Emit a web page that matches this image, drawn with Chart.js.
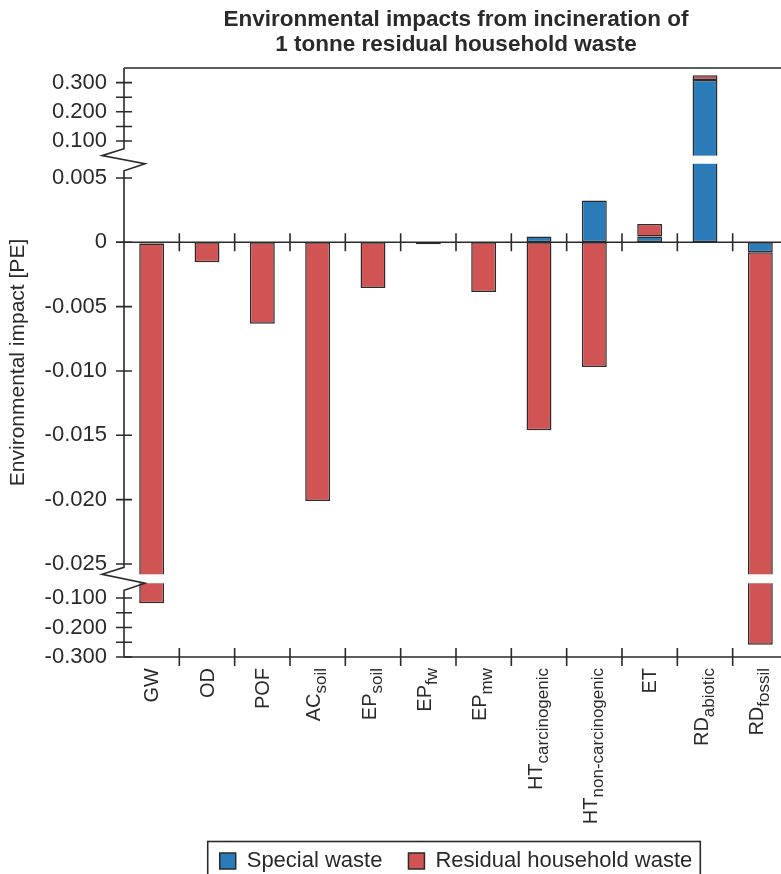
<!DOCTYPE html>
<html>
<head>
<meta charset="utf-8">
<script src="https://cdn.jsdelivr.net/npm/chart.js@4.4.1/dist/chart.umd.min.js"></script>
<style>
  html, body { margin: 0; padding: 0; background: #fff; overflow: hidden; }
  #wrap { width: 790px; height: 882px; }
</style>
</head>
<body>
<div id="wrap"><canvas id="chart" width="790" height="882"></canvas></div>
<script>
// impact categories (main text + subscript)
const catMain = ['GW', 'OD', 'POF', 'AC', 'EP', 'EP', 'EP', 'HT', 'HT', 'ET', 'RD', 'RD'];
const catSub = ['', '', '', 'soil', 'soil', 'fw', 'mw', 'carcinogenic', 'non-carcinogenic', '', 'abiotic', 'fossil'];

// PE per tonne
const specialWaste = [-0.0001, 0, 0, 0, 0, 0, 0, 0.00044, 0.00324, 0.00044, 0.309, -0.00078];
const residualWaste = [-0.118, -0.00156, -0.00633, -0.0201, -0.00355, -0.00016, -0.00386, -0.0146, -0.0097, 0.00098, 0.016, -0.258];

const yTickValues = [-0.3, -0.2, -0.1, -0.025, -0.02, -0.015, -0.01, -0.005, 0, 0.005, 0.1, 0.2, 0.3];
const yMinorTicks = [-0.25, -0.15, 0.15, 0.25];

// broken y axis: value range of each piece and where it sits (0 = bottom, 1 = top)
const segments = [
  { min: -0.30, max: -0.05, from: 0, to: 0.1252 },
  { min: -0.0258, max: 0.0061, from: 0.1404, to: 0.8374 },
  { min: 0.05, max: 0.35, from: 0.8512, to: 1 }
];

function toDecimal(v) {
  for (let i = 0; i < segments.length; i++) {
    const g = segments[i];
    if (i > 0 && v < g.min) {
      const p = segments[i - 1];
      return p.to + (v - p.max) / (g.min - p.max) * (g.from - p.to);
    }
    if (v <= g.max || i === segments.length - 1) {
      return g.from + (v - g.min) / (g.max - g.min) * (g.to - g.from);
    }
  }
}

function fromDecimal(d) {
  for (let i = 0; i < segments.length; i++) {
    const g = segments[i];
    if (i > 0 && d < g.from) {
      const p = segments[i - 1];
      return p.max + (d - p.to) / (g.from - p.to) * (g.min - p.max);
    }
    if (d <= g.to || i === segments.length - 1) {
      return g.min + (d - g.from) / (g.to - g.from) * (g.max - g.min);
    }
  }
}

class BrokenScale extends Chart.LinearScale {
  getPixelForValue(value) {
    return this.getPixelForDecimal(toDecimal(value));
  }
  getValueForPixel(pixel) {
    return fromDecimal(this.getDecimalForPixel(pixel));
  }
  buildTicks() {
    return yTickValues.map(v => ({ value: v }));
  }
}
BrokenScale.id = 'broken';
BrokenScale.defaults = Chart.LinearScale.defaults;
Chart.register(BrokenScale);

const INK = '#2a2a2a';
const FONT = "'Liberation Sans', Arial, Helvetica, sans-serif";

const axisPlugin = {
  id: 'brokenAxis',
  afterDatasetsDraw(chart) {
    const { ctx, chartArea: a, scales: { x, y } } = chart;
    const L = a.left;
    const R = chart.width + 5;
    ctx.save();

    // cut the bars where the axis is broken
    ctx.fillStyle = '#fff';
    const gaps = [];
    for (let i = segments.length - 1; i > 0; i--) {
      const gt = y.getPixelForValue(segments[i].min);
      const gb = y.getPixelForValue(segments[i - 1].max);
      gaps.push([gt, gb]);
      ctx.fillRect(L + 1, gt, R - L, gb - gt);
    }

    ctx.strokeStyle = INK;
    ctx.lineWidth = 1.6;

    // frame lines
    const y0 = y.getPixelForValue(0);
    ctx.beginPath();
    ctx.moveTo(L, a.top); ctx.lineTo(R, a.top);
    ctx.moveTo(L, a.bottom); ctx.lineTo(R, a.bottom);
    ctx.moveTo(L - 8, y0); ctx.lineTo(R, y0);
    ctx.stroke();

    // y axis with zigzag breaks
    ctx.beginPath();
    ctx.moveTo(L, a.top);
    gaps.forEach(([gt, gb]) => {
      ctx.lineTo(L, gt - 7);
      ctx.lineTo(L - 22, gt);
      ctx.lineTo(L + 21, gb);
      ctx.lineTo(L, gb + 7);
    });
    ctx.lineTo(L, a.bottom);
    ctx.stroke();

    // y tick marks
    ctx.beginPath();
    yTickValues.concat(yMinorTicks).forEach(v => {
      const py = y.getPixelForValue(v);
      ctx.moveTo(L - 8, py); ctx.lineTo(L + 8, py);
    });
    // x tick marks between categories, on zero line and bottom line
    const step = x.getPixelForValue(1) - x.getPixelForValue(0);
    for (let i = 1; i <= catMain.length; i++) {
      const px = x.getPixelForValue(i) - step / 2;
      ctx.moveTo(px, y0 - 9); ctx.lineTo(px, y0 + 9);
      ctx.moveTo(px, a.bottom - 9); ctx.lineTo(px, a.bottom + 9);
    }
    ctx.stroke();

    // category labels, rotated, with subscripts
    ctx.fillStyle = INK;
    ctx.textBaseline = 'middle';
    ctx.textAlign = 'left';
    const mainFont = '20px ' + FONT;
    const subFont = '17px ' + FONT;
    catMain.forEach((m, i) => {
      const px = x.getPixelForValue(i);
      const s = catSub[i];
      ctx.font = mainFont;
      const wm = ctx.measureText(m).width;
      ctx.font = subFont;
      const ws = s ? ctx.measureText(s).width : 0;
      ctx.save();
      ctx.translate(px, a.bottom + 11);
      ctx.rotate(-Math.PI / 2);
      ctx.font = mainFont;
      ctx.fillText(m, -(wm + ws), s ? -3 : 1);
      if (s) {
        ctx.font = subFont;
        ctx.fillText(s, -ws, 4);
      }
      ctx.restore();
    });
    ctx.restore();
  },
  afterDraw(chart) {
    const hb = chart.legend.legendHitBoxes;
    if (!hb || !hb.length) return;
    const { ctx } = chart;
    const last = hb[hb.length - 1];
    const cy = hb[0].top + hb[0].height / 2;
    ctx.save();
    ctx.strokeStyle = INK;
    ctx.lineWidth = 1.6;
    ctx.strokeRect(hb[0].left - 12, cy - 19.5, last.left + last.width + 8 - (hb[0].left - 12), 39);
    ctx.restore();
  }
};

new Chart(document.getElementById('chart'), {
  type: 'bar',
  data: {
    labels: catMain.map((m, i) => m + catSub[i]),
    datasets: [
      {
        label: 'Special waste',
        data: specialWaste,
        backgroundColor: '#2b7bb9',
        borderColor: '#2a2a2a',
        borderWidth: 1.5,
        borderSkipped: false
      },
      {
        label: 'Residual household waste',
        data: residualWaste,
        backgroundColor: '#d05454',
        borderColor: '#2a2a2a',
        borderWidth: 1.5,
        borderSkipped: false
      }
    ]
  },
  options: {
    responsive: false,
    animation: false,
    devicePixelRatio: 1,
    layout: { padding: { left: 0, right: 2, top: 0, bottom: 0 } },
    datasets: { bar: { categoryPercentage: 0.5, barPercentage: 0.9 } },
    scales: {
      x: {
        stacked: true,
        offset: true,
        grid: { display: false, drawTicks: false },
        border: { display: false },
        ticks: { display: false },
        afterFit: s => { s.height = 167; }
      },
      y: {
        type: 'broken',
        stacked: true,
        min: -0.3,
        max: 0.35,
        grid: { display: false, drawTicks: false },
        border: { display: false },
        ticks: {
          autoSkip: false,
          padding: 17,
          color: INK,
          font: { size: 22, family: FONT },
          callback: v => (v === 0 ? '0' : v.toFixed(3))
        },
        title: {
          display: true,
          text: 'Environmental impact [PE]',
          color: INK,
          font: { size: 21, family: FONT },
          padding: { top: 6, bottom: 0 }
        },
        afterFit: s => { s.width = 124; }
      }
    },
    plugins: {
      title: {
        display: true,
        fullSize: false,
        text: ['Environmental impacts from incineration of', '1 tonne residual household waste'],
        color: INK,
        font: { size: 22.5, weight: 'bold', family: FONT, lineHeight: 1.1 },
        padding: { top: 7.5, bottom: 11 }
      },
      legend: {
        position: 'bottom',
        fullSize: false,
        labels: {
          color: INK,
          font: { size: 22, family: FONT },
          boxWidth: 16,
          boxHeight: 16,
          padding: 26
        }
      },
      tooltip: { enabled: false }
    }
  },
  plugins: [axisPlugin]
});
</script>
</body>
</html>
